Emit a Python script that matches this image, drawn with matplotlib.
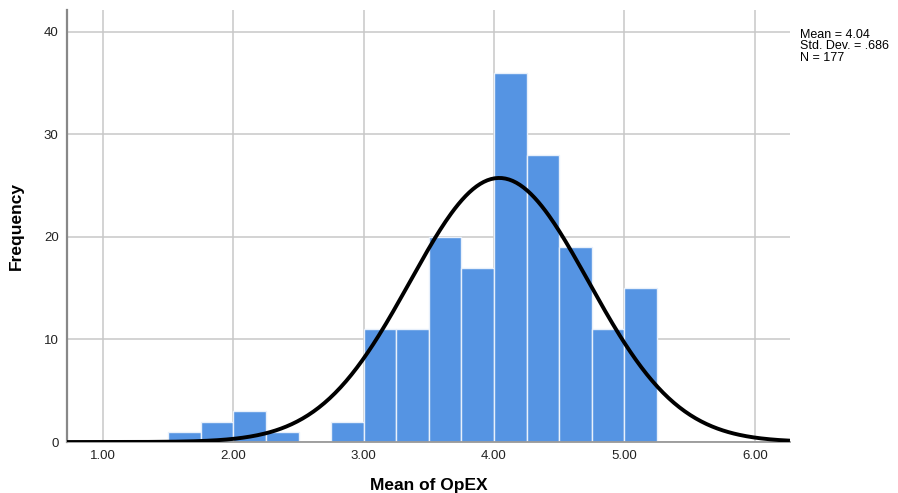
import numpy as np
import matplotlib
matplotlib.use("Agg")
import matplotlib.pyplot as plt

plt.rcParams['font.family'] = ['Liberation Sans', 'DejaVu Sans']

# Histogram data (bin edges from 1.50 in steps of .25)
bin_edges = [1.50, 1.75, 2.00, 2.25, 2.50, 2.75, 3.00, 3.25, 3.50, 3.75,
             4.00, 4.25, 4.50, 4.75, 5.00, 5.25]
counts = [1, 2, 3, 1, 0, 2, 11, 11, 20, 17, 36, 28, 19, 11, 15]
mean_val = 4.04
std_val = 0.686
n_total = 177
x_ticks = [1.0, 2.0, 3.0, 4.0, 5.0, 6.0]
y_ticks = [0, 10, 20, 30, 40]

fig = plt.figure(figsize=(8.98, 4.93), dpi=100)
ax = fig.add_axes([0.0746, 0.1034, 0.8051, 0.8763])

ax.set_xlim(0.724, 6.27)
ax.set_ylim(0, 42.1)
ax.grid(True, color="#c8c8c8", linewidth=1.1)
ax.set_axisbelow(True)

widths = np.diff(bin_edges)
ax.bar(bin_edges[:-1], counts, width=widths, align="edge",
       color="#5594e3", edgecolor="#e8f0fb", linewidth=1.0, zorder=2)

# curva normal
xs = np.linspace(0.724, 6.27, 400)
bw = bin_edges[1] - bin_edges[0]
ys = n_total * bw / (std_val * np.sqrt(2 * np.pi)) * np.exp(-0.5 * ((xs - mean_val) / std_val) ** 2)
ax.plot(xs, ys, color="black", linewidth=2.8, zorder=3, solid_capstyle="butt")

ax.set_xticks(x_ticks)
ax.set_xticklabels([f"{t:.2f}" for t in x_ticks])
ax.set_yticks(y_ticks)
ax.tick_params(length=0, labelsize=9.5, colors="#222222", pad=6)

for s in ["top", "right"]:
    ax.spines[s].set_visible(False)
ax.spines["left"].set_color("#888888")
ax.spines["left"].set_linewidth(1.6)
ax.spines["bottom"].set_color("#999999")
ax.spines["bottom"].set_linewidth(1.3)

ax.set_xlabel("Mean of OpEX", fontsize=12.5, fontweight="bold", labelpad=11)
ax.set_ylabel("Frequency", fontsize=12.5, fontweight="bold", labelpad=14)

fig.text(0.891, 0.942, f"Mean = {mean_val:.2f}\nStd. Dev. = .{int(round(std_val * 1000))}\nN = {n_total}",
         fontsize=9, va="top", ha="left", linespacing=0.95)

fig.savefig("out.png", dpi=100)
